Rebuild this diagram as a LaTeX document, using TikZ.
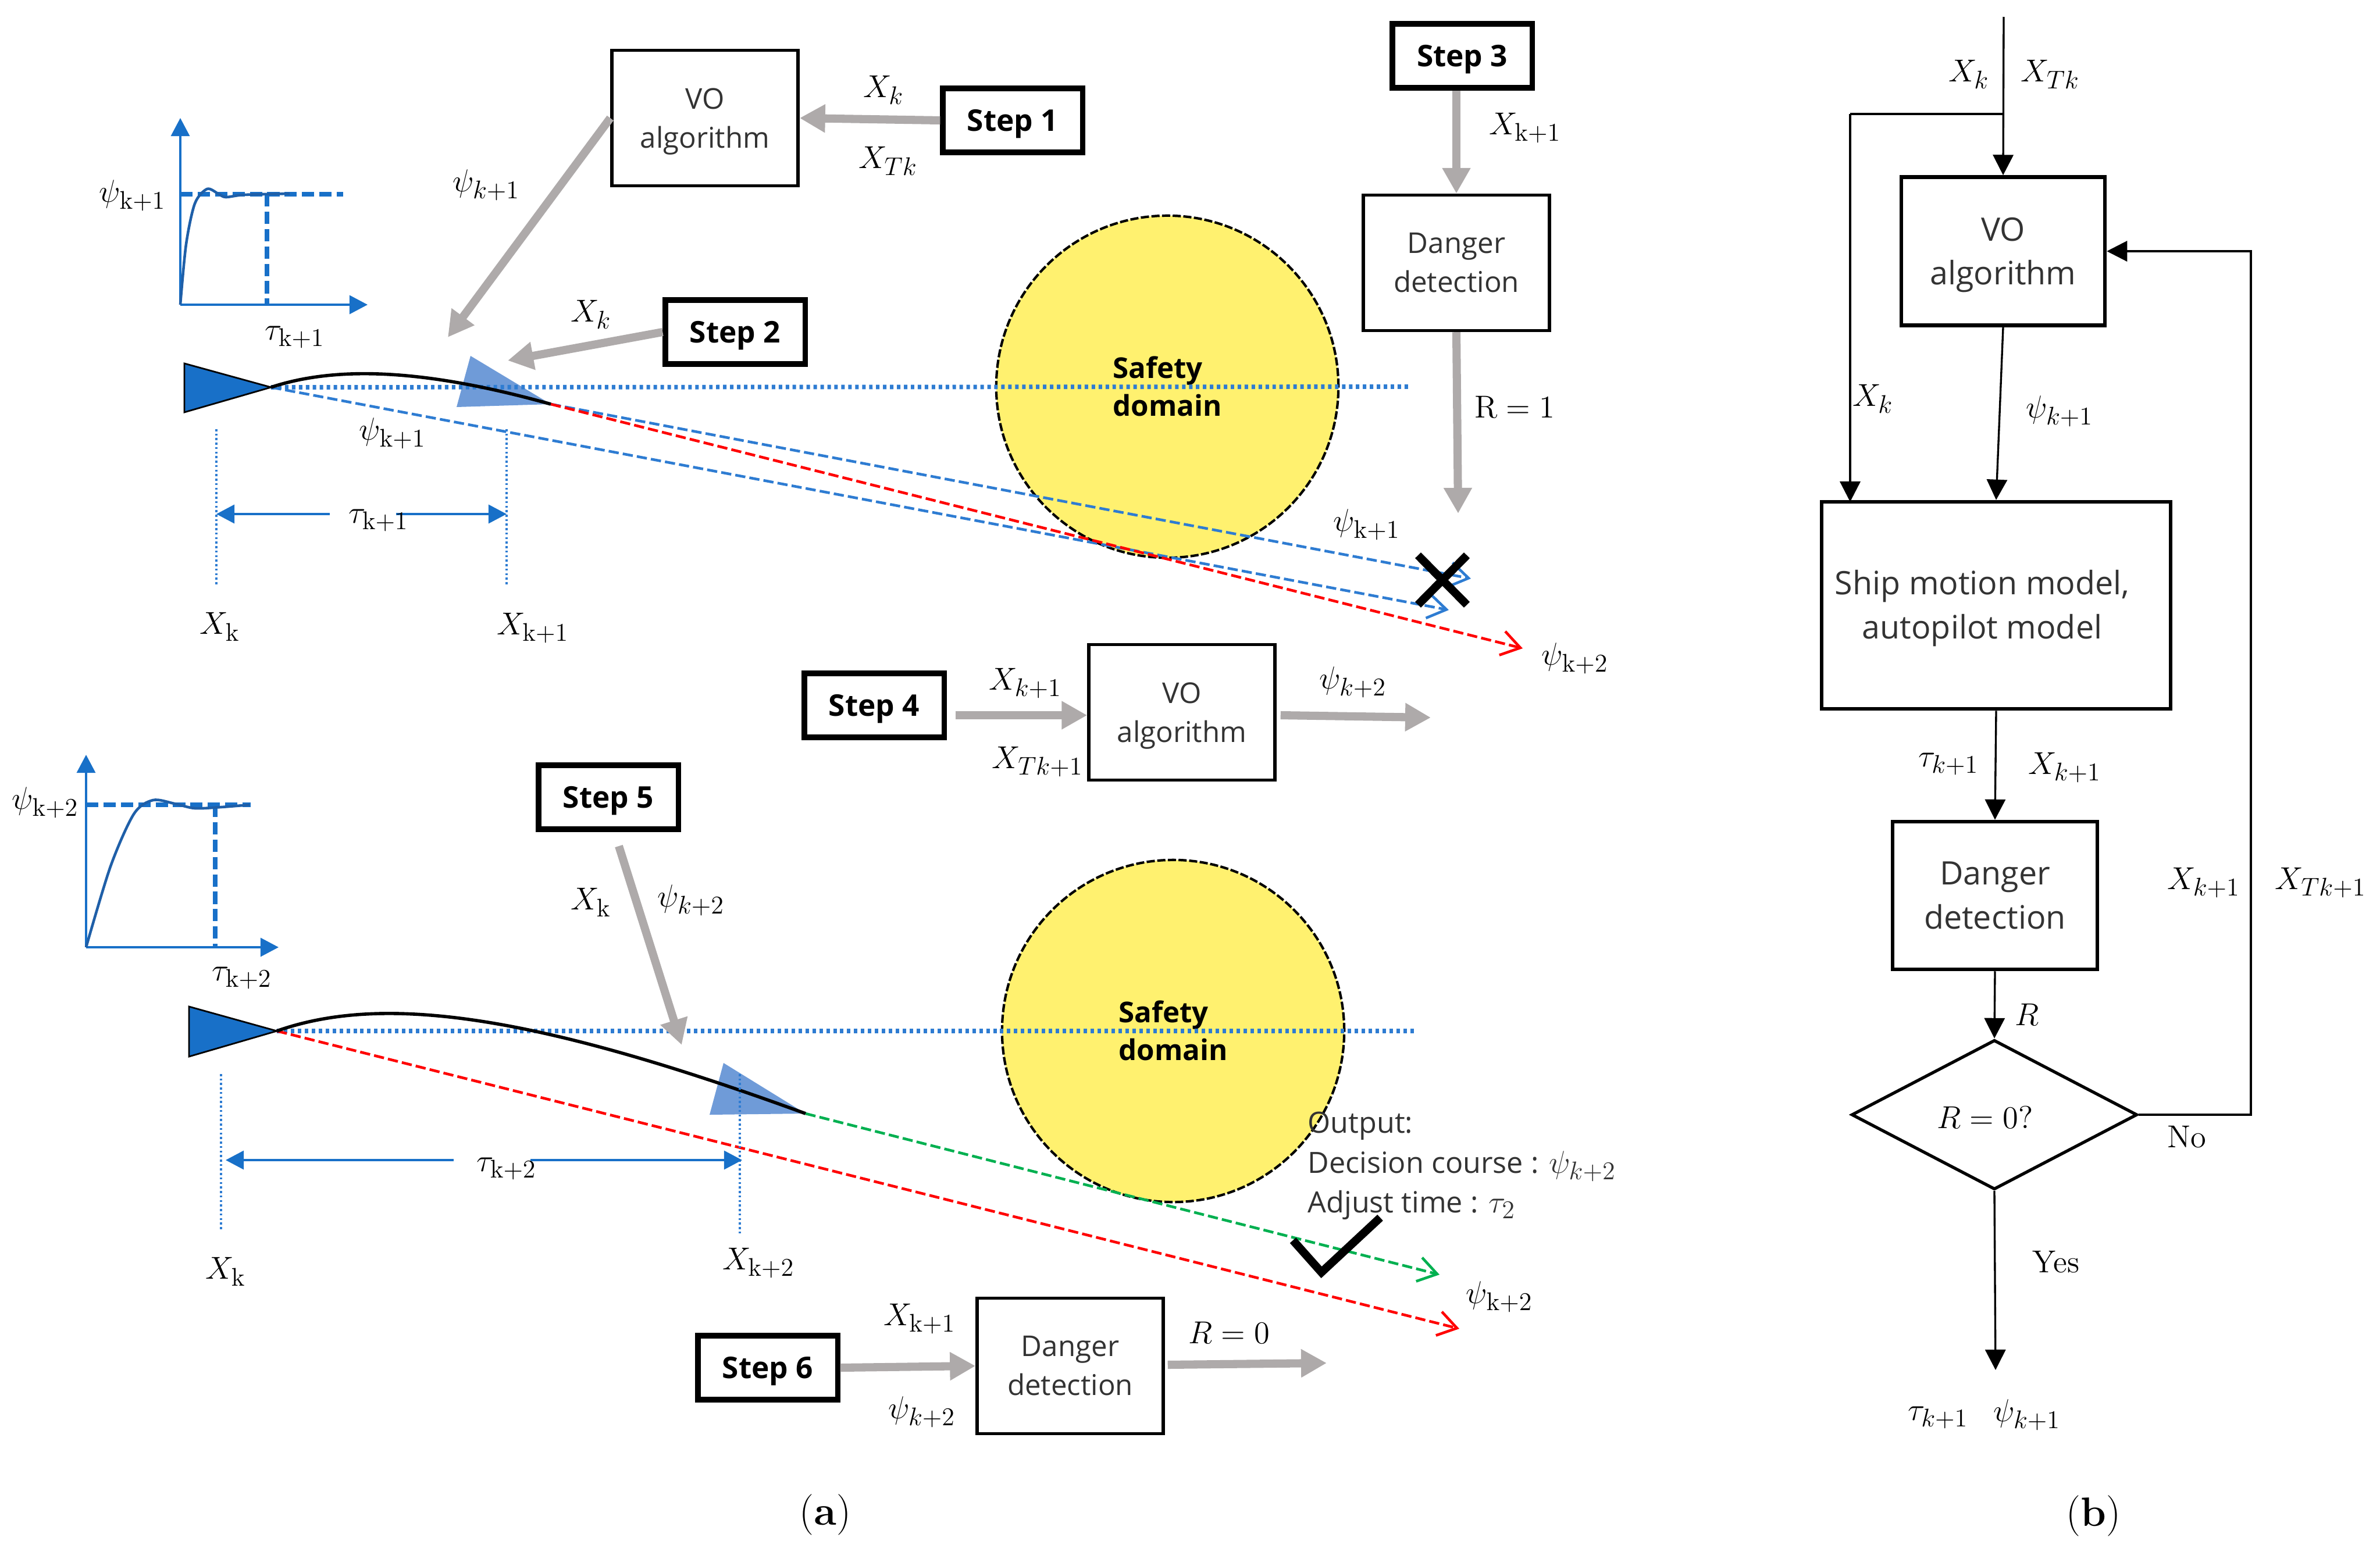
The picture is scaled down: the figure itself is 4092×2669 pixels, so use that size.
\documentclass[tikz,border=0pt]{standalone}
\usepackage{fix-cm}
\usepackage{amsmath}
\usepackage[no-math]{fontspec}
\setmainfont{Open Sans}
\usepackage{tikz}
\usetikzlibrary{arrows.meta,shapes.geometric}
\DeclareMathSizes{15.5}{15.5}{12.5}{10}
\DeclareMathSizes{14.3}{15.5}{12.5}{10}
\definecolor{shipblue}{HTML}{1870C8}
\definecolor{shiplight}{HTML}{6F9BD8}
\definecolor{curveblue}{HTML}{1F5FA8}
\definecolor{courseblue}{HTML}{2E7CD2}
\definecolor{safeyellow}{HTML}{FFF16F}
\definecolor{arrowgray}{HTML}{AEAAAA}
\definecolor{goodgreen}{HTML}{00B050}
\definecolor{textgray}{HTML}{333333}
\tikzset{
	lab/.style={font=\fontsize{15.5}{18}\selectfont, inner sep=0pt},
	plain/.style={font=\fontsize{14}{19}\selectfont, text=textgray, align=center, inner sep=0pt},
	stepbox/.style={draw, line width=2.6pt, font=\fontsize{14.6}{16}\selectfont\bfseries, minimum width=2.4cm, minimum height=1.1cm, inner sep=0pt, text depth=0pt},
	algobox/.style={draw, line width=1.5pt, plain, minimum width=3.2cm, minimum height=2.33cm},
	rightbox/.style={draw, line width=1.8pt, plain, font=\fontsize{15.8}{21.5}\selectfont},
	grayarrow/.style={arrowgray, line width=4pt, -{Triangle[width=4.6mm,length=4.4mm]}},
	blackarrow/.style={line width=0.95pt, -{Triangle[width=3.5mm,length=3.5mm]}},
	axisarrow/.style={shipblue, line width=0.9pt, -{Triangle[width=3.2mm,length=3.1mm]}},
	dashhelp/.style={shipblue, line width=2.2pt, dash pattern=on 6pt off 2.5pt},
	bigdots/.style={courseblue, line width=2.2pt, dash pattern=on 1.7pt off 1.7pt},
	smalldots/.style={courseblue, line width=1pt, dash pattern=on 1pt off 1.2pt},
	course/.style={line width=1.3pt, dash pattern=on 5pt off 2pt, -{Straight Barb[width=4.2mm,length=3.2mm,line width=1.3pt]}},
	safety/.style={circle, draw, fill=safeyellow, line width=1.2pt, dash pattern=on 4pt off 1.2pt, minimum size=5.88cm, inner sep=0pt},
	safetext/.style={font=\fontsize{14}{18.5}\selectfont\bfseries, align=left, inner sep=0pt},
	crossmark/.style={line width=4pt}
}
\begin{document}
\begin{tikzpicture}[x=0.01cm,y=-0.01cm]
	\useasboundingbox (0,0) rectangle (4092,2669);
	
	% upper part
	\node[safety] (safe1) at (2007,665) {};
	\node[safetext] (safe1txt) at (2007,664) {Safety\\domain};
	\node[stepbox] (step1) at (1741,207) {Step 1};
	\node[stepbox] (step2) at (1264,571) {Step 2};
	\node[stepbox] (step3) at (2514,96) {Step 3};
	\node[algobox, text depth=0pt] (vo1) at (1212,203) {VO\\algorithm};
	\node[algobox] (danger1) at (2504,452) {Danger\\detection};
	\coordinate (voout1) at (770,580);
	\coordinate (stepout2) at (873,620);
	\coordinate (dangerout1) at (2507,883);
	\draw[grayarrow] (step1.west) -- (vo1.east);
	\draw[grayarrow] (vo1.west) -- (voout1);
	\draw[grayarrow] (step2.west) -- (stepout2);
	\draw[grayarrow] (step3.south -| danger1.north) -- (danger1.north);
	\draw[grayarrow] (danger1.south) -- (dangerout1);
	
	% ship and courses
	\coordinate (tip1) at (466,666);
	\coordinate (tip1b) at (947,695);
	\coordinate (dotend1) at (2426,665);
	\coordinate (endb1) at (2529,995);
	\coordinate (endb2) at (2491,1049);
	\coordinate (endr1) at (2618,1115);
	\fill[shiplight] (809,612) -- (785,700) -- (tip1b) -- cycle;
	\draw[bigdots] (tip1) -- (dotend1);
	\draw[course, courseblue] (tip1b) -- (endb1);
	\draw[course, courseblue] (tip1) -- (endb2);
	\draw[course, red] (tip1b) -- (endr1);
	\draw[draw=black, fill=shipblue, line width=0.8pt] (317,625) -- (317,709) -- (tip1) -- cycle;
	\draw[line width=1.6pt] (tip1) .. controls (590,625) and (750,640) .. (tip1b);
	
	% response curve
	\coordinate (or1) at (310,524);
	\coordinate (ytop1) at (310,203);
	\coordinate (xend1) at (632,524);
	\coordinate (hend1) at (590,334);
	\coordinate (hstart1) at (310,334);
	\coordinate (vtop1) at (459,334);
	\coordinate (vbot1) at (459,524);
	\draw[axisarrow] (or1) -- (ytop1);
	\draw[axisarrow] (or1) -- (xend1);
	\draw[dashhelp] (hstart1) -- (hend1);
	\draw[dashhelp] (vtop1) -- (vbot1);
	\draw[curveblue, line width=1.3pt] plot[smooth] coordinates {(310,524) (320,420) (335,350) (356,325) (375,333) (388,339) (420,335) (498,333)};
	
	% time span
	\coordinate (vl1a) at (372,738);
	\coordinate (vl1b) at (372,1008);
	\coordinate (vr1a) at (871,738);
	\coordinate (vr1b) at (871,1006);
	\coordinate (dl1) at (372,884);
	\coordinate (dl1g) at (567,884);
	\coordinate (dr1) at (871,884);
	\coordinate (dr1g) at (681,884);
	\draw[smalldots] (vl1a) -- (vl1b);
	\draw[smalldots] (vr1a) -- (vr1b);
	\draw[axisarrow] (dl1g) -- (dl1);
	\draw[axisarrow] (dr1g) -- (dr1);
	
	\node[lab] (x1a) at (1519,155) {$X_k$};
	\node[lab] (x1b) at (1527,277) {$X_{Tk}$};
	\node[lab] (psi1a) at (836,318) {$\psi_{k+1}$};
	\node[lab] (x1c) at (1016,541) {$X_k$};
	\node[lab] (x1d) at (2622,220) {$X_{\mathrm{k+1}}$};
	\node[lab] (r1) at (2604,700) {$\mathrm{R}=1$};
	\node[lab] (psi1b) at (2350,902) {$\psi_{\mathrm{k+1}}$};
	\node[lab] (psi1c) at (2708,1132) {$\psi_{\mathrm{k+2}}$};
	\node[lab] (psi1d) at (675,745) {$\psi_{\mathrm{k+1}}$};
	\node[lab] (psi1e) at (228,336) {$\psi_{\mathrm{k+1}}$};
	\node[lab] (tau1a) at (507,580) {$\tau_{\mathrm{k+1}}$};
	\node[lab] (tau1b) at (651,895) {$\tau_{\mathrm{k+1}}$};
	\node[lab] (x1e) at (378,1078) {$X_{\mathrm{k}}$};
	\node[lab] (x1f) at (916,1080) {$X_{\mathrm{k+1}}$};
	
	% cross
	\coordinate (cr1) at (2438,955);
	\coordinate (cr2) at (2522,1040);
	\coordinate (cr3) at (2522,955);
	\coordinate (cr4) at (2438,1040);
	\draw[crossmark] (cr1) -- (cr2);
	\draw[crossmark] (cr3) -- (cr4);
	
	% step 4
	\node[stepbox] (step4) at (1503,1213) {Step 4};
	\node[algobox, text depth=0pt] (vo2) at (2032,1225) {VO\\algorithm};
	\coordinate (voout2) at (2460,1234);
	\draw[grayarrow] (step4.east) ++(15,17) coordinate (step4out) -- (vo2.west |- step4out);
	\draw[grayarrow] (vo2.east) ++(7,5) coordinate (vo2out) -- (voout2);
	\node[lab] (x2a) at (1763,1175) {$X_{k+1}$};
	\node[lab] (x2b) at (1784,1310) {$X_{Tk+1}$};
	\node[lab] (psi2a) at (2326,1173) {$\psi_{k+2}$};
	
	% lower part
	\node[safety] (safe2) at (2017,1773) {};
	\node[safetext] (safe2txt) at (2017,1772) {Safety\\domain};
	\node[stepbox] (step5) at (1046,1371) {Step 5};
	\node[stepbox] (step6) at (1320,2352) {Step 6};
	\node[algobox] (danger2) at (1840,2349) {Danger\\detection};
	\coordinate (s5a) at (1064,1455);
	\coordinate (s5b) at (1172,1797);
	\coordinate (dangerout2) at (2281,2344);
	\draw[grayarrow] (step6.east) -- (danger2.west);
	\draw[grayarrow] (danger2.east) ++(5,-2) coordinate (d2out) -- (dangerout2);
	
	\coordinate (tip2) at (476,1773);
	\coordinate (tip2b) at (1385,1915);
	\coordinate (dotend2) at (2436,1773);
	\coordinate (endg) at (2475,2192);
	\coordinate (endr2) at (2509,2285);
	\fill[shiplight] (1244,1828) -- (1220,1917) -- (tip2b) -- cycle;
	\draw[bigdots] (tip2) -- (dotend2);
	\draw[course, goodgreen] (tip2b) -- (endg);
	\draw[course, red] (tip2) -- (endr2);
	\draw[draw=black, fill=shipblue, line width=0.8pt] (325,1731) -- (325,1817) -- (tip2) -- cycle;
	\draw[line width=1.6pt] (tip2) .. controls (660,1708) and (920,1745) .. (tip2b);
	\draw[grayarrow] (s5a) -- (s5b);
	
	% response curve
	\coordinate (or2) at (148,1629);
	\coordinate (ytop2) at (148,1298);
	\coordinate (xend2) at (479,1629);
	\coordinate (hstart2) at (148,1384);
	\coordinate (hend2) at (431,1384);
	\coordinate (vtop2) at (370,1384);
	\coordinate (vbot2) at (370,1629);
	\draw[axisarrow] (or2) -- (ytop2);
	\draw[axisarrow] (or2) -- (xend2);
	\draw[dashhelp] (hstart2) -- (hend2);
	\draw[dashhelp] (vtop2) -- (vbot2);
	\draw[curveblue, line width=1.3pt] plot[smooth] coordinates {(148,1629) (190,1490) (230,1400) (263,1376) (300,1382) (335,1390) (380,1388) (429,1384)};
	
	% time span
	\coordinate (vl2a) at (380,1847);
	\coordinate (vl2b) at (380,2116);
	\coordinate (vr2a) at (1272,1847);
	\coordinate (vr2b) at (1272,2123);
	\coordinate (dl2) at (388,1995);
	\coordinate (dl2g) at (780,1995);
	\coordinate (dr2) at (1276,1995);
	\coordinate (dr2g) at (912,1995);
	\draw[smalldots] (vl2a) -- (vl2b);
	\draw[smalldots] (vr2a) -- (vr2b);
	\draw[axisarrow] (dl2g) -- (dl2);
	\draw[axisarrow] (dr2g) -- (dr2);
	
	\node[lab] (psi3a) at (78,1380) {$\psi_{\mathrm{k+2}}$};
	\node[lab] (tau2a) at (416,1682) {$\tau_{\mathrm{k+2}}$};
	\node[lab] (x3a) at (1016,1552) {$X_{\mathrm{k}}$};
	\node[lab] (psi3b) at (1188,1548) {$\psi_{k+2}$};
	\node[lab] (tau2b) at (871,2010) {$\tau_{\mathrm{k+2}}$};
	\node[lab] (x3b) at (388,2187) {$X_{\mathrm{k}}$};
	\node[lab] (x3c) at (1304,2172) {$X_{\mathrm{k+2}}$};
	\node[lab] (x3d) at (1581,2268) {$X_{\mathrm{k+1}}$};
	\node[lab] (psi3c) at (1585,2428) {$\psi_{k+2}$};
	\node[lab] (r2) at (2113,2292) {$R=0$};
	\node[lab] (psi3d) at (2578,2230) {$\psi_{\mathrm{k+2}}$};
	
	% output
	\node[plain, anchor=west, align=left, font=\fontsize{14.3}{19.5}\selectfont] (outtxt) at (2248,2005) {Output:\\Decision course : $\psi_{k+2}$\\Adjust time : $\tau_2$};
	
	% check mark
	\coordinate (ck1) at (2223,2133);
	\coordinate (ck2) at (2272,2188);
	\coordinate (ck3) at (2373,2094);
	\draw[crossmark] (ck1) -- (ck2) -- (ck3);
	
	% right panel
	\coordinate (topin) at (3445,29);
	\coordinate (branch) at (3445,196);
	\coordinate (branchl) at (3181,196);
	\coordinate (shipin) at (3181,863);
	\coordinate (corner1) at (3870,1917);
	\coordinate (corner2) at (3870,432);
	\coordinate (outb) at (3431,2356);
	\node[rightbox, text depth=0pt, minimum width=3.5cm, minimum height=2.55cm] (vob) at (3444,432) {VO\\algorithm};
	\node[rightbox, minimum width=6cm, minimum height=3.56cm] (shipb) at (3432,1041) {};
	\node[plain, font=\fontsize{15.8}{21.5}\selectfont] (shiptxt) at (3408,1046) {Ship motion model,\\autopilot model};
	\node[rightbox, minimum width=3.52cm, minimum height=2.54cm] (dangerb) at (3430,1540) {Danger\\detection};
	\node[diamond, draw, line width=1.5pt, aspect=1.91, minimum width=4.91cm, minimum height=2.57cm, inner sep=0pt] (decb) at (3429,1917) {};
	\draw[blackarrow] (topin) -- (vob.north);
	\draw[line width=0.95pt] (branch) -- (branchl);
	\draw[blackarrow] (branchl) -- (shipin);
	\draw[blackarrow] (vob.south) -- (shipb.north);
	\draw[blackarrow] (shipb.south) -- (dangerb.north);
	\draw[blackarrow] (dangerb.south) -- (decb.north);
	\draw[blackarrow] (decb.south) -- (outb);
	\draw[blackarrow] (decb.east) -- (corner1) -- (corner2) -- (vob.east);
	
	\node[lab] (xb1) at (3385,128) {$X_k$};
	\node[lab] (xb2) at (3525,128) {$X_{Tk}$};
	\node[lab] (xb3) at (3220,686) {$X_k$};
	\node[lab] (psib1) at (3541,707) {$\psi_{k+1}$};
	\node[lab] (taub1) at (3350,1314) {$\tau_{k+1}$};
	\node[lab] (xb4) at (3550,1320) {$X_{k+1}$};
	\node[lab] (xb5) at (3789,1518) {$X_{k+1}$};
	\node[lab] (xb6) at (3990,1518) {$X_{Tk+1}$};
	\node[lab] (rb) at (3485,1745) {$R$};
	\node[lab] (rb0) at (3413,1922) {$R=0?$};
	\node[lab] (nob) at (3760,1955) {$\mathrm{No}$};
	\node[lab] (yesb) at (3535,2170) {$\mathrm{Yes}$};
	\node[lab] (taub2) at (3332,2438) {$\tau_{k+1}$};
	\node[lab] (psib2) at (3485,2433) {$\psi_{k+1}$};
	
	\node[lab, font=\fontsize{20}{22}\selectfont] (capa) at (1419,2605) {$(\mathbf{a})$};
	\node[lab, font=\fontsize{20}{22}\selectfont] (capb) at (3599,2607) {$(\mathbf{b})$};
\end{tikzpicture}
\end{document}
